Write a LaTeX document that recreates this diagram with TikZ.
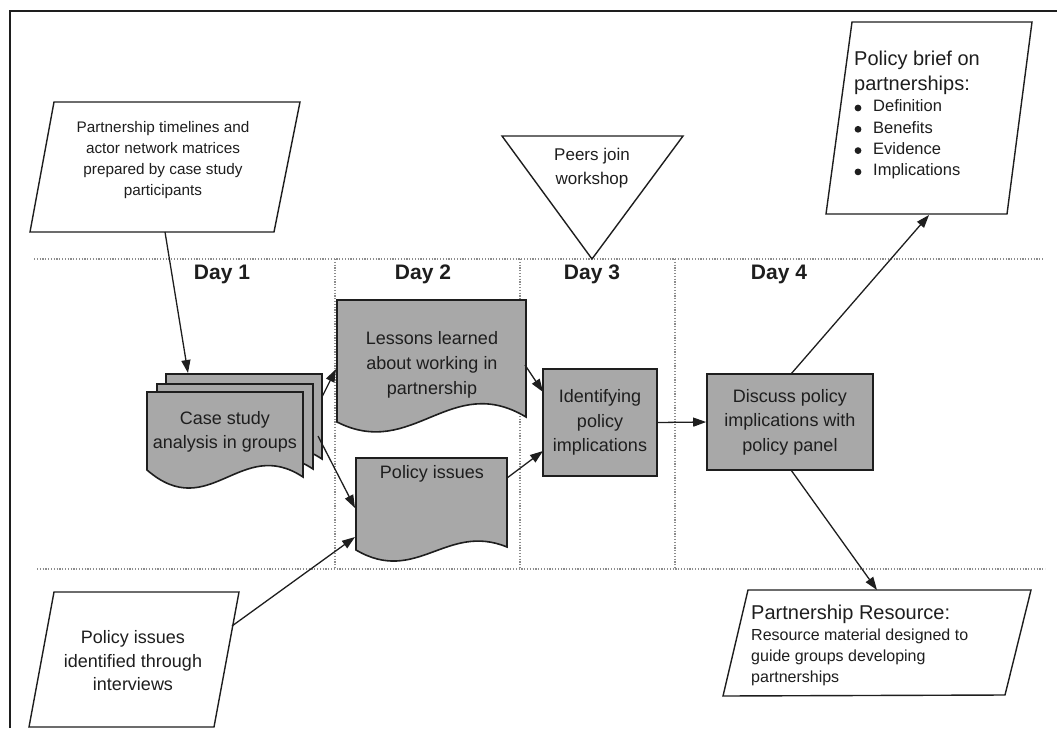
\documentclass[tikz,border=0pt]{standalone}
\usepackage{fontspec}
\setmainfont{Liberation Sans}
\usetikzlibrary{arrows.meta}
\definecolor{boxgray}{RGB}{168,168,168}
\definecolor{dotgray}{RGB}{140,140,140}
\definecolor{ink}{RGB}{30,30,30}
\newcommand\myfs[2]{\fontsize{#1}{#2}\selectfont}
\begin{document}
\begin{tikzpicture}[x=1pt,y=-1pt,
  frameline/.style={line width=1.4pt, draw=ink},
  para/.style={line width=1.4pt, draw=ink, fill=white},
  docshape/.style={line width=1.6pt, draw=ink, fill=boxgray},
  procbox/.style={line width=1.6pt, draw=ink, fill=boxgray, inner sep=0pt,
    align=center, text=ink, font=\myfs{18}{24.5}},
  sepline/.style={line width=1.3pt, dotgray, dash pattern=on 1.2pt off 1.6pt},
  conn/.style={line width=1.3pt, ink, -{Triangle[length=13pt,width=9pt]}},
  txt/.style={align=center, inner sep=0pt, text=ink},
  daylbl/.style={inner sep=0pt, text=ink, font=\bfseries\myfs{21}{25}},
  bulletdot/.style={fill=ink}
]
\useasboundingbox (0,0) rectangle (1057,728);

% outer frame
\draw[frameline] (10,728) -- (10,11) -- (1057,11);

% day separators
\draw[sepline] (34,259) -- (1043,259);
\draw[sepline] (37,569) -- (1045,569);
\draw[sepline] (335,259) -- (335,569);
\draw[sepline] (520,259) -- (520,569);
\draw[sepline] (675,259) -- (675,569);

% day labels
\node[daylbl] (d1) at (222,274) {Day 1};
\node[daylbl] (d2) at (423,274) {Day 2};
\node[daylbl] (d3) at (592,274) {Day 3};
\node[daylbl] (d4) at (779,274) {Day 4};

% top-left input
\draw[para] (54,102) -- (300,102) -- (274,232) -- (30,232) -- cycle;
\node[txt, font=\myfs{15.3}{21}] (timelines) at (163,160)
  {Partnership timelines and\\actor network matrices\\prepared by case study\\participants};
\coordinate (timelinesout) at (165,232);

% bottom-left input
\draw[para] (54,592) -- (239,592) -- (214,727) -- (29,727) -- cycle;
\node[txt, font=\myfs{18}{23.5}] (interviews) at (133,661)
  {Policy issues\\identified through\\interviews};
\coordinate (interviewsout) at (232,626);

% case study stacked documents
\foreach \dx/\dy in {19/-18, 10/-8, 0/0}{
  \begin{scope}[shift={(\dx,\dy)}]
    \draw[docshape] (147,392) -- (303,392) -- (303,477)
      .. controls (240.6,435.6) and (209.4,524) .. (147,470) -- cycle;
  \end{scope}
}
\node[txt, font=\myfs{18}{24.5}] (casestudy) at (225,432)
  {Case study\\analysis in groups};
\coordinate (casein) at (188,373);
\coordinate (caseout1) at (322,397);
\coordinate (caseout2) at (318,436);

% lessons learned document
\draw[docshape] (337,300) -- (526,300) -- (526,417)
  .. controls (450.4,371.6) and (412.6,460.3) .. (337,422) -- cycle;
\node[txt, font=\myfs{18}{25}] (lessons) at (432,365)
  {Lessons learned\\about working in\\partnership};
\coordinate (lessonsin) at (336,369);
\coordinate (lessonsout) at (525,365);

% policy issues document
\draw[docshape] (356,458) -- (507,458) -- (507,547)
  .. controls (446.6,522.2) and (416.4,585.4) .. (356,550) -- cycle;
\node[txt, font=\myfs{18}{24}] (policyissues) at (432,474) {Policy issues};
\coordinate (policyin1) at (355,508);
\coordinate (policyin2) at (355,537);
\coordinate (policyout) at (507,478);

% peers triangle
\draw[para] (502,136) -- (683,136) -- (592,259) -- cycle;
\node[txt, font=\myfs{17}{24}] (peers) at (592,168) {Peers join\\workshop};

% identifying box
\node[procbox, minimum width=114pt, minimum height=107pt] (ident) at (600,422.5)
  {Identifying\\policy\\implications};
\coordinate (identin1) at (543,392);
\coordinate (identin2) at (543,451);

% discuss box
\node[procbox, minimum width=166pt, minimum height=96pt] (discuss) at (790,422)
  {Discuss policy\\implications with\\policy panel};
\coordinate (discusstop) at (791,374);
\coordinate (discussbot) at (791,470);

% policy brief output
\draw[para] (852,22) -- (1032,22) -- (1007,214) -- (826,214) -- cycle;
\node[inner sep=0pt, align=left, anchor=west, text=ink, font=\myfs{20}{25}] (brief)
  at (854,72.5) {Policy brief on\\partnerships:};
\node[inner sep=0pt, align=left, anchor=west, text=ink, font=\myfs{16.5}{21.3}] (brieflist)
  at (873,139.5) {Definition\\Benefits\\Evidence\\Implications};
\foreach \by in {108,129.3,150.6,171.9}{
  \fill[bulletdot] (858,\by) circle (3.4pt);
}
\coordinate (briefin) at (929,215);

% partnership resource output
\draw[para] (748,590) -- (1031,590) -- (1005,695) -- (723,696) -- cycle;
\node[inner sep=0pt, anchor=west, text=ink, font=\myfs{20}{25}] (reshead)
  at (751,614) {Partnership Resource:};
\node[inner sep=0pt, align=left, anchor=west, text=ink, font=\myfs{16}{21}] (resbody)
  at (751,657) {Resource material designed to\\guide groups developing\\partnerships};
\coordinate (resin) at (877,590);

% connectors
\draw[conn] (timelinesout) -- (casein);
\draw[conn] (caseout1) -- (lessonsin);
\draw[conn] (caseout2) -- (policyin1);
\draw[conn] (interviewsout) -- (policyin2);
\draw[conn] (lessonsout) -- (identin1);
\draw[conn] (policyout) -- (identin2);
\draw[conn] (ident.east) -- (discuss.west);
\draw[conn] (discusstop) -- (briefin);
\draw[conn] (discussbot) -- (resin);
\end{tikzpicture}
\end{document}
